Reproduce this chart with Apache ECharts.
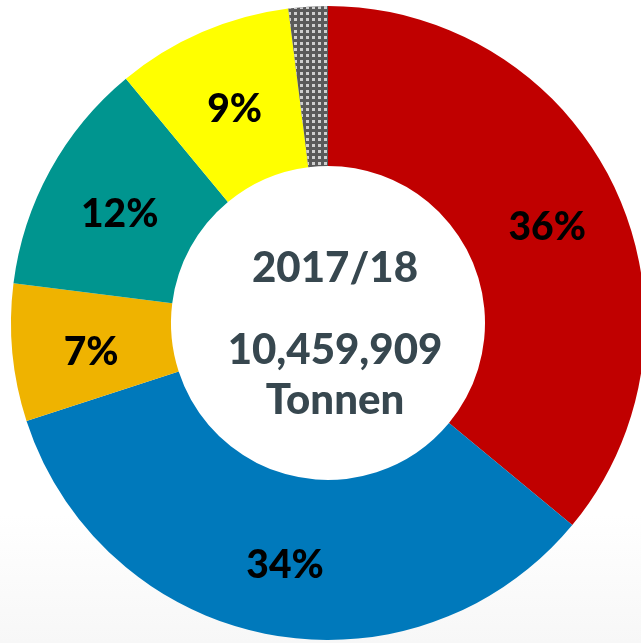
<!DOCTYPE html>
<html>
<head>
<meta charset="utf-8">
<style>
  html, body { margin: 0; padding: 0; }
  #chart { width: 641px; height: 643px; }
</style>
<script src="https://cdn.jsdelivr.net/npm/echarts@6/dist/echarts.min.js"></script>
</head>
<body>
<div id="chart"></div>
<script>
	"use strict";

	// slices, clockwise from 12 o'clock
	var categories = ['A', 'B', 'C', 'D', 'E', 'Sonstige'];
	var shares = [36, 34, 7, 12, 9, 2];
	var sliceColors = ['#c00000', '#0079bb', '#efb300', '#00958f', '#ffff00', '#5a5a5a'];
	var centerLines = ['2017/18', '10,459,909', 'Tonnen'];

	var fontName = 'Lato, "Open Sans", sans-serif';

	var pieData = categories.map(function (name, i) {
		var item = {
			name: name,
			value: shares[i],
			itemStyle: { color: sliceColors[i] }
		};
		if (i === categories.length - 1) {
			// checkered slice
			item.itemStyle.decal = {
				symbol: 'rect',
				symbolSize: 1,
				color: '#cfcfcf',
				dashArrayX: [3, 3],
				dashArrayY: [3, 3],
				rotation: 0
			};
			item.label = { show: false };
		}
		return item;
	});

	function centerText(txt, top) {
		return {
			type: 'text', x: 335, y: top,
			style: {
				text: txt,
				font: '900 42px ' + fontName,
				fill: '#37474f',
				align: 'center',
				verticalAlign: 'top'
			}
		};
	}

	var option = {
		animation: false,
		backgroundColor: {
			type: 'linear', x: 0, y: 0, x2: 0, y2: 1,
			colorStops: [
				{ offset: 0, color: '#ffffff' },
				{ offset: 0.8, color: '#ffffff' },
				{ offset: 1, color: '#f7f7f7' }
			]
		},
		graphic: [
			centerText(centerLines[0], 247),
			centerText(centerLines[1], 329),
			centerText(centerLines[2], 379)
		],
		series: [
			{
				type: 'pie',
				center: [328, 323],
				radius: [157, 317],
				startAngle: 90,
				clockwise: true,
				avoidLabelOverlap: false,
				itemStyle: { borderWidth: 0 },
				label: {
					show: true,
					position: 'inside',
					formatter: '{c}%',
					color: '#000',
					fontSize: 39,
					fontWeight: 900,
					fontFamily: fontName,
					offset: [2, 7]
				},
				labelLine: { show: false },
				emphasis: { disabled: true },
				data: pieData
			}
		]
	};

	var chart = echarts.init(document.getElementById('chart'));
	chart.setOption(option);
</script>
</body>
</html>
